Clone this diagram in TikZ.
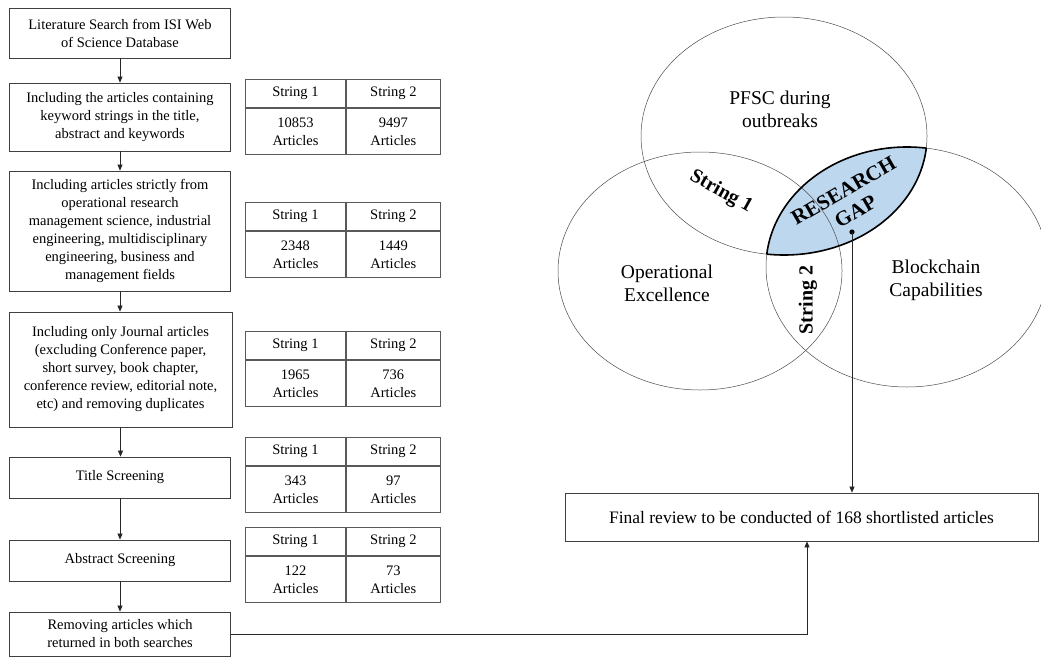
\documentclass[tikz,border=0pt]{standalone}
\usepackage{fontspec}
\setmainfont{Liberation Serif}
\usetikzlibrary{arrows.meta,positioning}

\definecolor{azulgap}{RGB}{189,215,238}
\tikzset{
    caja/.style={draw=black!75, line width=0.8pt, minimum width=221pt, align=center,
        inner sep=3pt, font=\fontsize{14.5}{18}\selectfont},
    celda/.style={draw=black!65, line width=0.9pt, align=center, inner sep=0pt,
        font=\fontsize{14.5}{18}\selectfont},
    flecha/.style={-{Triangle[length=6pt,width=5pt]}, line width=0.7pt, black!85},
    conjunto/.style={draw=black!70, line width=0.5pt},
    etiqueta/.style={align=center, font=\fontsize{19.5}{23}\selectfont},
    cadena/.style={align=center, font=\fontsize{20}{17}\selectfont\bfseries}
}

\begin{document}
\begin{tikzpicture}[x=1pt, y=-1pt]
        \useasboundingbox (0,0) rectangle (1041,656);

        % Paso 1: Cajas del proceso de busqueda
        \node[caja, minimum height=50pt] (b1) at (120,33)
            {Literature Search from ISI Web\\of Science Database};
        \node[caja, minimum height=68pt] (b2) at (120,117)
            {Including the articles containing\\keyword strings in the title,\\abstract and keywords};
        \node[caja, minimum height=120pt] (b3) at (120,231)
            {Including articles strictly from\\operational research\\management science, industrial\\engineering, multidisciplinary\\engineering, business and\\management fields};
        \node[caja, minimum height=115pt, minimum width=223pt] (b4) at (120.5,369.5)
            {Including only Journal articles\\(excluding Conference paper,\\short survey, book chapter,\\conference review, editorial note,\\etc) and removing duplicates};
        \node[caja, minimum height=41pt] (b5) at (120,477.5) {Title Screening};
        \node[caja, minimum height=41pt] (b6) at (120,560.5) {Abstract Screening};
        \node[caja, minimum height=44pt] (b7) at (120,634)
            {Removing articles which\\returned in both searches};

        % Paso 2: Flechas entre las cajas
        \foreach \i/\j in {b1/b2, b2/b3, b3/b4, b4/b5, b5/b6, b6/b7}
            \draw[flecha] (\i.south) -- (\i.south |- \j.north);

        % Paso 3: Tablas con el numero de articulos por cadena
        \foreach \n/\ty/\a/\b in {1/79/10853/9497, 2/202/2348/1449, 3/331/1965/736,
                                  4/437/343/97, 5/527/122/73}{
            \node[celda, minimum width=100pt, minimum height=28pt, anchor=north west]
                (t\n a) at (245,\ty) {String 1};
            \node[celda, minimum width=94pt, minimum height=28pt, right=0pt of t\n a]
                (t\n b) {String 2};
            \node[celda, minimum width=100pt, minimum height=46pt, below=0pt of t\n a]
                (t\n c) {\a\\Articles};
            \node[celda, minimum width=94pt, minimum height=46pt, below=0pt of t\n b]
                (t\n d) {\b\\Articles};
        }

        % Paso 4: Centros de los conjuntos del diagrama de Venn
        \coordinate (cP) at (784,136);
        \coordinate (cO) at (700,271);
        \coordinate (cB) at (907,267);

        % Paso 5: Rellena la brecha de investigacion
        \begin{scope}
            \clip (cP) ellipse (143 and 119);
            \fill[azulgap] (cB) ellipse (141 and 120);
        \end{scope}

        % Paso 6: Dibuja los conjuntos
        \draw[conjunto] (cP) ellipse (143 and 119);
        \draw[conjunto] (cO) ellipse (142 and 119);
        \draw[conjunto] (cB) ellipse (141 and 120);

        % Paso 7: Borde grueso de la brecha
        \begin{scope}
            \clip (cP) ellipse (143 and 119);
            \draw[line width=1.6pt] (cB) ellipse (141 and 120);
        \end{scope}
        \begin{scope}
            \clip (cB) ellipse (141 and 120);
            \draw[line width=1.6pt] (cP) ellipse (143 and 119);
        \end{scope}

        % Paso 8: Etiquetas de los conjuntos
        \node[etiqueta] (lP) at (780,109) {PFSC during\\outbreaks};
        \node[etiqueta] (lO) at (667,283) {Operational\\Excellence};
        \node[etiqueta] (lB) at (936,280) {Blockchain\\Capabilities};
        \node[cadena, rotate=-29] (s1) at (721,192) {String 1};
        \node[cadena, rotate=90] (s2) at (808,300) {String 2};
        \node[cadena, rotate=30, font=\fontsize{21}{24}\selectfont\bfseries]
            (gapt) at (849.5,201) {RESEARCH\\GAP};

        % Paso 9: Caja final y conectores
        \node[caja, minimum width=473pt, minimum height=48pt,
              font=\fontsize{17.5}{20}\selectfont] (fin) at (801.5,517)
            {Final review to be conducted of 168 shortlisted articles};
        \coordinate (gap) at (852,232);
        \fill (gap) circle (2.6);
        \draw[flecha] (gap) -- (gap |- fin.north);
        \draw[flecha] (b7.east) -| ([xshift=5.5pt]fin.south);
\end{tikzpicture}
\end{document}
